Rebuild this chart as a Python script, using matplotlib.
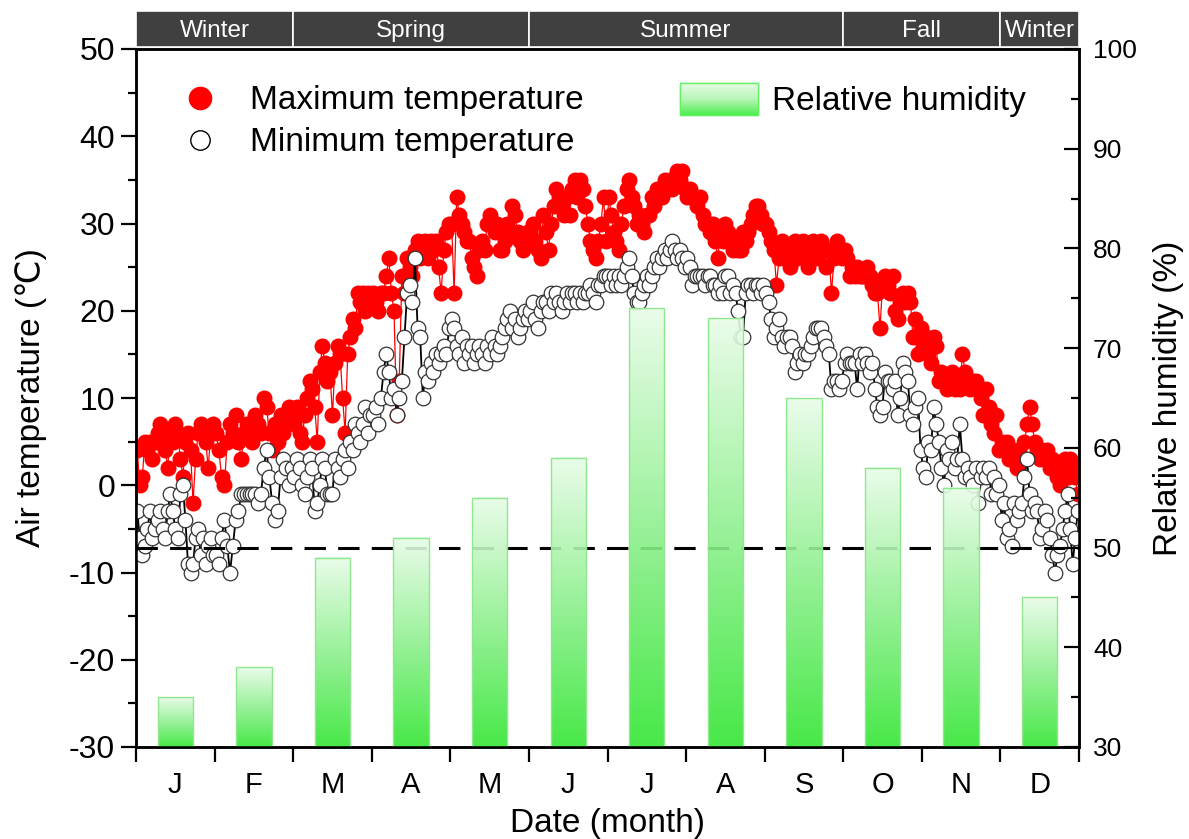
import numpy as np
import matplotlib
matplotlib.use('Agg')
import matplotlib.pyplot as plt
from matplotlib.lines import Line2D
from matplotlib.patches import Patch, Rectangle
from matplotlib.colors import LinearSegmentedColormap
from matplotlib.ticker import MultipleLocator

plt.rcParams['font.family'] = ['Liberation Sans', 'DejaVu Sans']
plt.rcParams['axes.unicode_minus'] = False

months = ['J', 'F', 'M', 'A', 'M', 'J', 'J', 'A', 'S', 'O', 'N', 'D']
month_days = [31, 28, 31, 30, 31, 30, 31, 31, 30, 31, 30, 31]
humidity = [35, 38, 49, 51, 55, 59, 74, 73, 65, 58, 56, 45]
seasons = ['Winter', 'Spring', 'Summer', 'Fall', 'Winter']
season_edges = [0, 2, 5, 9, 11, 12]

# daily maximum air temperature (deg C), one line per month
tmax = [
    4, 0, 1, 5, 4, 5, 3, 5, 6, 7, 5, 4, 2, 6, 5, 7, 6, 3, 1, 5, 6, 4, -2, 3, 6, 7, 6, 5, 2, 6, 7,
    6, 4, 1, 0, 5, 7, 6, 8, 5, 3, 6, 7, 6, 5, 8, 7, 6, 10, 9, 6, 4, 7, 5, 8, 6, 7, 9, 8,
    7, 9, 6, 5, 8, 10, 12, 11, 9, 5, 13, 16, 14, 12, 13, 8, 14, 16, 15, 10, 6, 15, 17, 19, 18, 22, 21, 22, 20, 22, 21,
    22, 21, 20, 22, 22, 24, 26, 22, 20, 8, 12, 24, 22, 26, 25, 24, 27, 28, 26, 27, 28, 26, 28, 27, 28, 25, 22, 27, 29, 30,
    30, 22, 33, 31, 30, 29, 28, 28, 26, 25, 24, 27, 28, 27, 30, 31, 30, 29, 30, 27, 27, 28, 30, 29, 32, 31, 29, 28, 27, 28, 29,
    29, 30, 28, 27, 26, 31, 29, 27, 30, 32, 34, 33, 32, 31, 33, 31, 34, 35, 33, 35, 34, 32, 30, 28, 27, 26, 28, 30, 33, 28,
    33, 31, 29, 28, 27, 30, 32, 34, 35, 33, 32, 30, 31, 30, 29, 31, 31, 33, 32, 34, 34, 33, 35, 34, 35, 34, 35, 36, 35, 36, 34,
    33, 34, 33, 33, 32, 33, 31, 30, 30, 29, 30, 28, 26, 29, 28, 30, 29, 28, 27, 28, 27, 27, 29, 28, 29, 30, 31, 32, 32, 31, 30,
    30, 29, 28, 27, 23, 26, 28, 26, 27, 25, 27, 28, 26, 27, 28, 26, 25, 27, 28, 27, 26, 28, 27, 25, 27, 22, 26, 28, 27, 26,
    27, 26, 24, 25, 24, 25, 24, 24, 24, 25, 24, 23, 22, 22, 18, 23, 24, 23, 22, 24, 20, 19, 21, 22, 21, 22, 21, 17, 19, 15, 18,
    16, 17, 15, 14, 17, 16, 12, 13, 12, 11, 12, 13, 11, 12, 11, 15, 13, 12, 11, 12, 12, 11, 10, 8, 11, 9, 7, 6, 8, 4,
    5, 4, 5, 3, 4, 3, 2, 4, 3, 5, 7, 9, 7, 5, 4, 3, 4, 3, 4, 2, 3, 2, 1, 0, 2, 3, 1, 3, 2, 1, -1,
]

# daily minimum air temperature (deg C)
tmin = [
    -3, -6, -8, -7, -5, -3, -6, -5, -4, -3, -5, -6, -3, -1, -3, -5, -6, -1, 0, -4, -9, -10, -9, -6, -5, -8, -6, -9, -7, -6, -8,
    -8, -9, -6, -4, -7, -10, -7, -4, -3, -1, -1, -1, -1, -1, -1, -2, -1, 2, 4, 1, -2, -4, -3, 1, 3, 2, 0, 2,
    1, 3, 2, 0, -1, 1, 3, 2, -3, -2, 0, 3, 2, -1, -1, -1, 3, 2, 1, 3, 4, 2, 5, 4, 7, 6, 5, 7, 9, 6, 8,
    8, 9, 7, 10, 13, 15, 13, 10, 11, 8, 10, 12, 17, 22, 23, 21, 26, 18, 17, 10, 13, 12, 14, 13, 15, 14, 15, 16, 15, 18,
    19, 18, 16, 15, 17, 14, 16, 15, 16, 14, 15, 16, 15, 14, 16, 15, 17, 16, 15, 16, 17, 18, 19, 20, 18, 19, 17, 18, 19, 20, 19,
    20, 21, 19, 18, 20, 21, 21, 20, 22, 21, 22, 21, 20, 21, 22, 21, 22, 22, 21, 22, 21, 22, 22, 23, 22, 21, 23, 23, 24, 24,
    24, 23, 24, 23, 24, 23, 24, 25, 26, 24, 22, 21, 21, 22, 23, 24, 23, 24, 25, 26, 25, 26, 27, 26, 27, 28, 27, 26, 27, 26, 25,
    26, 25, 23, 24, 24, 24, 24, 23, 24, 24, 23, 23, 22, 23, 22, 24, 24, 22, 23, 22, 20, 17, 17, 22, 23, 23, 22, 23, 23, 22, 23,
    22, 21, 19, 17, 18, 19, 17, 16, 17, 17, 16, 13, 14, 15, 14, 15, 15, 16, 17, 18, 18, 18, 17, 16, 15, 11, 12, 12, 11, 12,
    14, 15, 14, 14, 14, 11, 15, 14, 15, 14, 13, 14, 11, 9, 8, 9, 13, 12, 12, 11, 12, 8, 10, 14, 13, 12, 8, 7, 9, 10, 4,
    2, 1, 5, 4, 9, 7, 5, 2, 0, 4, 3, 5, 2, 3, 7, 3, 1, 2, 1, 0, 2, -2, 1, 2, 1, 2, -1, 1, -1, 0,
    -4, -2, -6, -5, -7, -2, -4, -3, -2, 1, 3, -1, -3, -2, -3, -6, -5, -3, -4, -6, -8, -10, -8, -7, -5, -3, -1, -5, -9, -6, -3,
]

# each day placed inside its month, months equally wide on the axis
day_x = np.concatenate([m + (np.arange(n) + 0.5) / n for m, n in enumerate(month_days)])

fig = plt.figure(figsize=(11.89, 8.39), dpi=100)
ax = fig.add_axes([136 / 1189, 92 / 839, 943 / 1189, 698 / 839])
ax2 = ax.twinx()

ax.plot(day_x, tmax, '-', color='red', lw=0.9, marker='o', ms=10.5,
        mfc='red', mec='red', zorder=3)
ax.plot(day_x, tmin, '-', color='black', lw=1.3, marker='o', ms=10.5,
        mfc='white', mec='#333333', mew=0.9, zorder=4)

# humidity bars with a vertical green gradient
bar_cmap = LinearSegmentedColormap.from_list(
    'rh', [(0, '#33e633'), (0.5, '#8ef08e'), (1, '#e8fce8')])
grad = np.linspace(0, 1, 256).reshape(-1, 1)
bw = 0.45
for i, h in enumerate(humidity):
    c = i + 0.5
    ax2.imshow(grad, extent=[c - bw / 2, c + bw / 2, 30, h], origin='lower',
               aspect='auto', cmap=bar_cmap, alpha=0.9, zorder=2)
    ax2.bar(c, h - 30, bottom=30, width=bw, fill=False,
            edgecolor='#8fe88f', lw=1, zorder=2.1)

ax2.axhline(50, color='black', lw=2.2, dashes=(7, 4), zorder=1)

ax.set_xlim(0, 12)
ax.set_ylim(-30, 50)
ax2.set_ylim(30, 100)

ax.set_yticks(range(-30, 51, 10))
ax.yaxis.set_minor_locator(MultipleLocator(5))
ax.tick_params(axis='y', which='major', direction='out', length=11, width=1.6,
               labelsize=23, pad=4)
ax.tick_params(axis='y', which='minor', direction='out', length=5.5, width=1.6)
ax.set_xticks(range(13))
ax.set_xticklabels([])
ax.set_xticks(np.arange(12) + 0.5, minor=True)
ax.set_xticklabels(months, minor=True)
ax.tick_params(axis='x', which='major', direction='out', length=11, width=1.6)
ax.tick_params(axis='x', which='minor', length=0, labelsize=21, pad=17)

ax2.set_yticks(range(30, 101, 10))
ax2.yaxis.set_minor_locator(MultipleLocator(5))
ax2.tick_params(axis='y', which='major', direction='in', length=11, width=1.6,
                labelsize=19, pad=10)
ax2.tick_params(axis='y', which='minor', direction='in', length=5.5, width=1.6)

for a in (ax, ax2):
    for sp in a.spines.values():
        sp.set_linewidth(1.8)

ax.set_ylabel('Air temperature (℃)', fontsize=24)
ax.yaxis.set_label_coords(-0.094, 0.5)
ax2.set_ylabel('Relative humidity (%)', fontsize=24, rotation=90)
ax2.yaxis.set_label_coords(1.078, 0.5)
ax.set_xlabel('Date (month)', fontsize=24)
ax.xaxis.set_label_coords(0.5, -0.087)

# season strip above the plot
sax = fig.add_axes([136 / 1189, (839 - 47) / 839, 943 / 1189, 36 / 839])
for s, a, b in zip(seasons, season_edges[:-1], season_edges[1:]):
    sax.add_patch(Rectangle((a, 0), b - a, 1, facecolor='#404040',
                            edgecolor='white', lw=1.2))
    sax.text((a + b) / 2, 0.45, s, color='white', fontsize=17.5,
             ha='center', va='center')
sax.set_xlim(0, 12)
sax.set_ylim(0, 1)
sax.axis('off')

# legends
h1 = Line2D([], [], ls='none', marker='o', ms=16, mfc='red', mec='red')
h2 = Line2D([], [], ls='none', marker='o', ms=14, mfc='white', mec='black', mew=1)
ax.legend([h1, h2], ['Maximum temperature', 'Minimum temperature'],
          loc='center left', bbox_to_anchor=(0.05, 0.8957), frameon=False,
          fontsize=24, handlelength=1.0, handletextpad=1.0, labelspacing=0.33,
          borderpad=0, borderaxespad=0)
leg2 = ax2.legend([Patch(facecolor='#b0f5b0', edgecolor='#66ee66')],
                  ['Relative humidity'], loc='center left',
                  bbox_to_anchor=(0.577, 0.927), frameon=False, fontsize=24,
                  handlelength=2.35, handleheight=1.1, handletextpad=0.4,
                  borderpad=0, borderaxespad=0)

fig.canvas.draw()
bb = leg2.get_patches()[0].get_window_extent()
inv = ax2.transData.inverted()
(x0, y0), (x1, y1) = inv.transform([[bb.x0, bb.y0], [bb.x1, bb.y1]])
leg_cmap = LinearSegmentedColormap.from_list('rhleg', ['#4cee4c', '#b8f6b8', '#e6fbe6'])
ax2.imshow(grad, extent=[x0, x1, y0, y1], origin='lower', aspect='auto',
           cmap=leg_cmap, zorder=6)
ax2.add_patch(Rectangle((x0, y0), x1 - x0, y1 - y0, fill=False,
                        edgecolor='#66ee66', lw=1, zorder=7))
ax2.set_xlim(0, 12)
ax2.set_ylim(30, 100)

fig.savefig('out.png', dpi=100)
